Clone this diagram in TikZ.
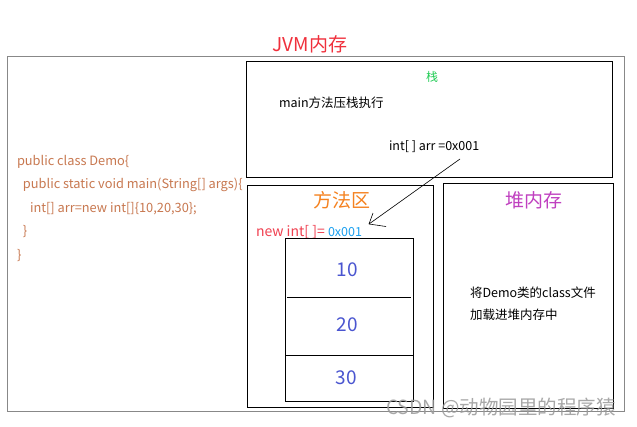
\documentclass[tikz,border=0pt]{standalone}
\usepackage{fontspec}
\setmainfont{Noto Sans CJK SC}
\definecolor{titlered}{HTML}{F0303C}
\definecolor{stackgreen}{HTML}{22CC55}
\definecolor{areaorange}{HTML}{F58220}
\definecolor{newred}{HTML}{F04050}
\definecolor{addrblue}{HTML}{1AA0F0}
\definecolor{numblue}{HTML}{4A55D0}
\definecolor{heappurple}{HTML}{C040C0}
\definecolor{codebrown}{HTML}{C87850}
\definecolor{framegray}{HTML}{888888}
\tikzset{
  box/.style={draw=black, line width=0.9pt},
  txt/.style={inner sep=0pt, outer sep=0pt, font=\fontsize{12.5}{14}\selectfont},
  big/.style={inner sep=0pt, outer sep=0pt, font=\fontsize{19}{22}\selectfont},
  code/.style={txt, anchor=west, text=codebrown, font=\fontsize{12.8}{14}\selectfont},
  num/.style={inner sep=0pt, font=\fontsize{19}{22}\selectfont, text=numblue},
}
\begin{document}
\begin{tikzpicture}[x=1pt,y=-1pt]
\useasboundingbox (0,0) rectangle (637,426);
\fill[white] (0,0) rectangle (637,426);
% outer frame
\draw[framegray, line width=1pt] (7,56) rectangle (624,411);
\node[big, text=titlered] (title) at (310,44) {JVM内存};
% stack
\draw[box] (246,61) rectangle (612,177);
\node[txt, text=stackgreen, font=\fontsize{12}{14}\selectfont] (stk) at (432,77) {栈};
\node[txt, anchor=west] (mainpush) at (279,103) {main方法压栈执行};
\node[txt, anchor=west] (arrref) at (389,147) {int[ ] arr =0x001};
% method area
\draw[box] (247,185) rectangle (433,407);
\node[big, text=areaorange] (area) at (342,200) {方法区};
\node[txt, anchor=west, text=newred, font=\fontsize{14}{15}\selectfont] (newint) at (256,232) {new int[ ]=};
\node[txt, anchor=west, text=addrblue] (addr) at (328,232) {0x001};
% array
\draw[box] (285,238) rectangle (413,401);
\draw[black, line width=0.9pt] (287,297) -- (411,297);
\draw[black, line width=0.9pt] (285,355) -- (413,355);
\node[num] (n10) at (347,270) {10};
\node[num] (n20) at (347,325) {20};
\node[num] (n30) at (346,378) {30};
% heap
\draw[box] (443,183) rectangle (613,408);
\node[big, text=heappurple] (heap) at (534,200) {堆内存};
\node[txt, anchor=west] (heap1) at (470,293) {将Demo类的class文件};
\node[txt, anchor=west] (heap2) at (470,315) {加载进堆内存中};
% code
\node[code] (c1) at (17,162) {public class Demo\{};
\node[code] (c2) at (23,185) {public static void main(String[] args)\{};
\node[code] (c3) at (30,209) {int[] arr=new int[]\{10,20,30\};};
\node[code] (c4) at (23,232) {\}};
\node[code] (c5) at (17,256) {\}};
% arrow
\coordinate (astart) at (460,159);
\coordinate (atip) at (369,224);
\draw[black, line width=0.6pt] (astart) -- (atip);
\draw[black, line width=0.6pt] (atip) -- ++(4,-11);
\draw[black, line width=0.6pt] (atip) -- ++(17,2.5);
% watermark
\node[txt, anchor=west, text=black!40, opacity=0.85, font=\fontsize{19.5}{22}\selectfont] (wm) at (386,408) {CSDN @动物园里的程序猿};
\end{tikzpicture}
\end{document}
